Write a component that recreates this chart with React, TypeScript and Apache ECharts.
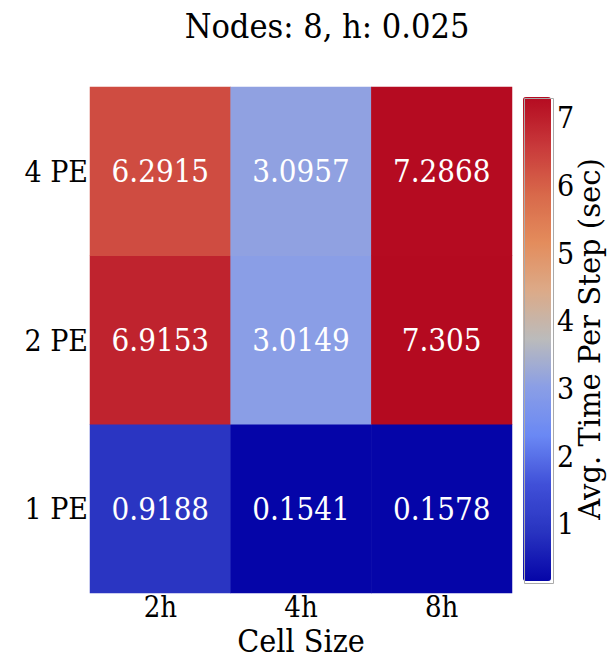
import React, { useEffect, useRef } from "react";
import * as echarts from "echarts";

const titleText = "Nodes: 8, h: 0.025";
const xCategories = ["2h", "4h", "8h"];
const yCategories = ["1 PE", "2 PE", "4 PE"];
// values per row (y), per column (x)
const row1PE = [0.9188, 0.1541, 0.1578];
const row2PE = [6.9153, 3.0149, 7.305];
const row4PE = [6.2915, 3.0957, 7.2868];
const colorbarTicks = [1, 2, 3, 4, 5, 6, 7];
const colorStops = [
  "#0505a8",
  "#2833c0",
  "#4050d8",
  "#6a88f4",
  "#8a9ee6",
  "#bbbbbb",
  "#dcaa88",
  "#e38c5c",
  "#d8684a",
  "#c8383a",
  "#b40a20",
];

const FONT = "DejaVu Serif Condensed, DejaVu Serif, serif";
const FONT_WIDE = "DejaVu Serif, serif";

export default function App() {
  const ref = useRef<HTMLDivElement>(null);
  useEffect(() => {
    if (!ref.current) return;
    const chart = echarts.init(ref.current, null, { renderer: "svg" });
    const rows = [row1PE, row2PE, row4PE];
    const data: [number, number, number][] = [];
    rows.forEach((r, yi) => r.forEach((v, xi) => data.push([xi, yi, v])));
    const all = rows.flat();
    const vmin = Math.min(...all);
    const vmax = Math.max(...all);
    chart.setOption({
      animation: false,
      backgroundColor: "#ffffff",
      title: {
        text: titleText,
        left: 322,
        top: 4,
        textAlign: "center",
        textStyle: { fontFamily: FONT, fontSize: 34, fontWeight: "normal", color: "#000" },
      },
      grid: [
        { left: 90, right: 96, top: 87, bottom: 67, outerBoundsMode: "none" },
        { left: 523, width: 28, top: 97, height: 484, outerBoundsMode: "none" },
      ],
      xAxis: [
        {
          type: "category",
          data: xCategories,
          gridIndex: 0,
          name: "Cell Size",
          nameLocation: "middle",
          nameMoveOverlap: false,
          nameGap: 33,
          nameTextStyle: { fontFamily: FONT, fontSize: 32, color: "#000", lineHeight: 30 },
          axisLine: { show: false },
          axisTick: { show: false },
          axisLabel: { fontFamily: FONT, fontSize: 29, color: "#000", margin: 1, lineHeight: 26 },
          splitArea: { show: false },
        },
        { type: "value", gridIndex: 1, show: false, min: 0, max: 1 },
      ],
      yAxis: [
        {
          type: "category",
          data: yCategories,
          gridIndex: 0,
          axisLine: { show: false },
          axisTick: { show: false },
          axisLabel: { fontFamily: FONT, fontSize: 30, color: "#000", margin: 2 },
        },
        {
          type: "value",
          gridIndex: 1,
          position: "right",
          min: vmin,
          max: vmax,
          name: "Avg. Time Per Step (sec)",
          nameLocation: "middle",
          nameMoveOverlap: false,
          nameRotate: 90,
          nameGap: 24,
          nameTextStyle: { fontFamily: FONT_WIDE, fontSize: 29, color: "#000", lineHeight: 30 },
          axisLine: { show: false },
          axisTick: { show: false },
          splitLine: { show: false },
          axisLabel: {
            customValues: colorbarTicks,
            fontFamily: FONT,
            fontSize: 30,
            color: "#000",
            margin: 6,
          },
        },
      ],
      visualMap: {
        type: "continuous",
        min: vmin,
        max: vmax,
        seriesIndex: 0,
        calculable: false,
        show: true,
        left: 523,
        top: 97,
        itemWidth: 28,
        itemHeight: 484,
        text: ["", ""],
        showLabel: false,
        borderWidth: 0,
        padding: 0,
        inRange: { color: colorStops },
      },
      graphic: [
        {
          type: "rect",
          left: 522,
          top: 96,
          shape: { width: 29, height: 485 },
          style: { fill: "none", stroke: "#aaaaaa", lineWidth: 1 },
          z: 100,
        },
      ],
      series: [
        {
          type: "heatmap",
          xAxisIndex: 0,
          yAxisIndex: 0,
          data,
          label: {
            show: true,
            color: "#ffffff",
            fontFamily: FONT,
            fontSize: 31,
            formatter: (p: any) => String(p.value[2]),
          },
          itemStyle: { borderWidth: 0 },
          emphasis: { disabled: true },
        },
      ],
    });
    return () => chart.dispose();
  }, []);
  return (
    <div
      ref={ref}
      style={{ position: "absolute", left: 0, top: 0, width: 608, height: 660 }}
    />
  );
}
